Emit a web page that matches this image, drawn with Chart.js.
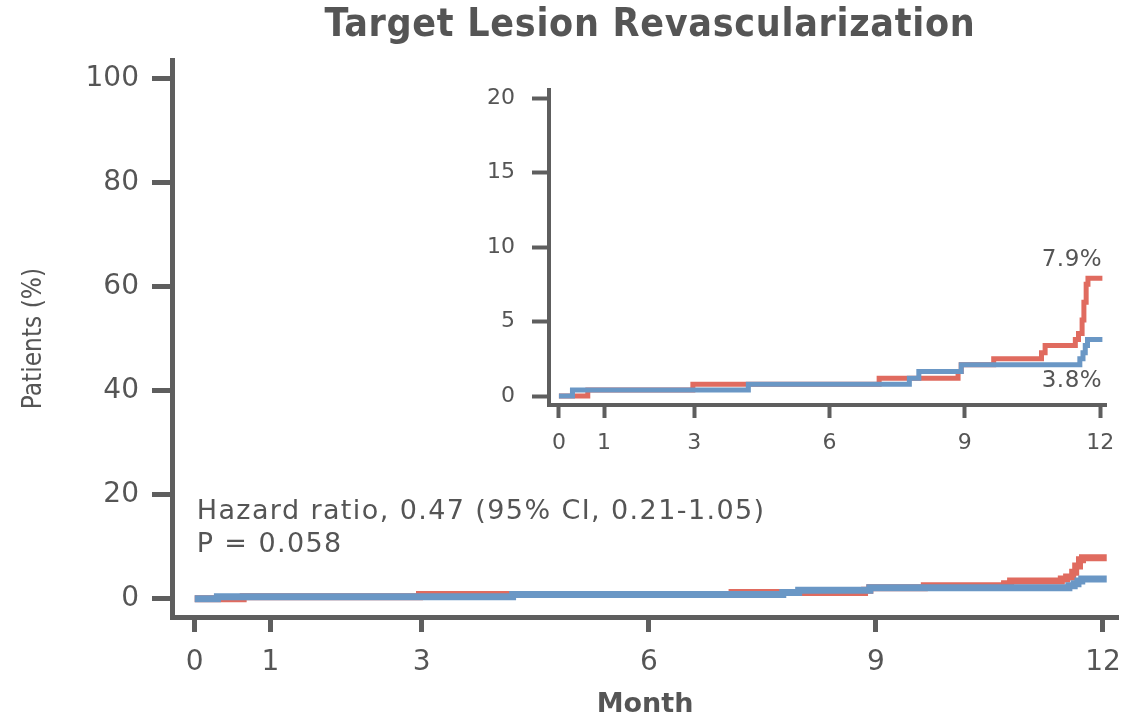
<!DOCTYPE html>
<html>
<head>
<meta charset="utf-8">
<script src="https://cdn.jsdelivr.net/npm/chart.js@4.4.0/dist/chart.umd.min.js"></script>
<style>
  body { margin: 0; background: #fff; }
  #wrap { position: relative; width: 1135px; height: 721px; }
  #title {
    position: absolute; left: 165px; width: 970px; top: 0px;
    text-align: center; color: #555;
    font-family: "DejaVu Sans Condensed", "DejaVu Sans", sans-serif;
    font-stretch: condensed; font-size: 39px; font-weight: bold;
    letter-spacing: 0.7px;
  }
  #main { position: absolute; left: 0; top: 0; }
  #inset { position: absolute; left: 470px; top: 60px; }
</style>
</head>
<body>
<div id="wrap">
  <canvas id="main" width="1135" height="721"></canvas>
  <canvas id="inset" width="660" height="410"></canvas>
  <div id="title">Target Lesion Revascularization</div>
</div>
<script>
// ---- datos (meses, % acumulado) ----
const redMonths = [0, 0.64, 2.97, 7.1, 8.85, 8.92, 9.64, 10.7, 10.78, 11.45, 11.52, 11.6, 11.64, 11.69, 11.73, 12.05];
const redPct = [0, 0.4, 0.8, 1.2, 1.65, 2.1, 2.5, 2.9, 3.4, 3.8, 4.2, 5.1, 6.3, 7.5, 7.9, 7.9];
const blueMonths = [0, 0.3, 4.2, 7.77, 7.98, 8.92, 11.55, 11.62, 11.67, 11.72, 12.05];
const bluePct = [0, 0.4, 0.8, 1.2, 1.65, 2.1, 2.5, 2.9, 3.4, 3.8, 3.8];

const xTicks = [0, 1, 3, 6, 9, 12];
const mainYTicks = [0, 20, 40, 60, 80, 100];
const insetYTicks = [0, 5, 10, 15, 20];

const hrLabel = "Hazard ratio, 0.47 (95% CI, 0.21-1.05)";
const pLabel = "P = 0.058";
const redEndLabel = "7.9%";
const blueEndLabel = "3.8%";

// ---- estilos ----
const RED = "#e06b5f";
const BLUE = "#6a97c5";
const AXIS = "#5e5e5e";
const TEXT = "#555555";
const FONT = "'DejaVu Sans', sans-serif";

const toPoints = (xs, ys) => xs.map((m, i) => ({ x: m, y: ys[i] }));

// texto anclado a valores de las escalas
const noteText = {
  id: "noteText",
  afterDatasetsDraw(chart, args, opts) {
    const { ctx, scales: { x, y } } = chart;
    ctx.save();
    ctx.fillStyle = TEXT;
    ctx.font = opts.font;
    ctx.letterSpacing = opts.spacing || "0px";
    ctx.textBaseline = "middle";
    opts.items.forEach((it) => {
      ctx.textAlign = it.align || "left";
      ctx.fillText(it.text, x.getPixelForValue(it.x) + (it.dx || 0), y.getPixelForValue(it.y) + (it.dy || 0));
    });
    ctx.restore();
  },
};

const makeDatasets = (lw) => [
  {
    label: "blue",
    data: toPoints(blueMonths, bluePct),
    borderColor: BLUE,
    borderWidth: lw,
    stepped: "before",
    pointRadius: 0,
    fill: false,
    order: 1,
  },
  {
    label: "red",
    data: toPoints(redMonths, redPct),
    borderColor: RED,
    borderWidth: lw,
    stepped: "before",
    pointRadius: 0,
    fill: false,
    order: 2,
  },
];

const axisScale = (opts) => ({
  type: "linear",
  min: opts.min,
  max: opts.max,
  afterBuildTicks: (s) => { s.ticks = opts.ticks.map((v) => ({ value: v })); },
  afterFit: opts.fit,
  border: { display: true, color: AXIS, width: opts.bw },
  grid: {
    display: true,
    drawOnChartArea: false,
    drawTicks: true,
    tickLength: opts.tl,
    tickWidth: opts.bw,
    tickColor: AXIS,
  },
  ticks: {
    color: TEXT,
    padding: opts.pad,
    font: { family: FONT, size: opts.fs },
    maxRotation: 0,
    autoSkip: false,
  },
  title: opts.title || { display: false },
});

// ---- gráfico principal ----
new Chart(document.getElementById("main"), {
  type: "line",
  data: { datasets: makeDatasets(7) },
  plugins: [noteText],
  options: {
    responsive: false,
    animation: false,
    layout: { padding: { top: 60, right: 15, left: 0, bottom: 0 } },
    scales: {
      x: axisScale({
        min: -0.3, max: 12.2, ticks: xTicks, bw: 5, tl: 15, pad: 14, fs: 28,
        fit: (s) => { s.height = 104; },
        title: {
          display: true, text: "Month", color: TEXT,
          font: { family: FONT, size: 27, weight: "bold" },
          padding: { top: 0, bottom: 0 },
        },
      }),
      y: axisScale({
        min: -3.5, max: 103.5, ticks: mainYTicks, bw: 5, tl: 20, pad: 13, fs: 28,
        fit: (s) => { s.width = 172; },
        title: {
          display: true, text: "Patients (%)", color: TEXT,
          font: { family: "'DejaVu Sans Condensed', 'DejaVu Sans', sans-serif", size: 26 },
          padding: { top: 19, bottom: 0 },
        },
      }),
    },
    plugins: {
      legend: { display: false },
      tooltip: { enabled: false },
      noteText: {
        font: "27px " + FONT,
        spacing: "1.4px",
        items: [
          { text: hrLabel, x: 0, y: 16.7, dx: 2 },
          { text: pLabel, x: 0, y: 10.4, dx: 2 },
        ],
      },
    },
  },
});

// ---- gráfico insertado (zoom 0-20 %) ----
new Chart(document.getElementById("inset"), {
  type: "line",
  data: { datasets: makeDatasets(5) },
  plugins: [noteText],
  options: {
    responsive: false,
    animation: false,
    layout: { padding: { top: 25, right: 24, left: 0, bottom: 0 } },
    scales: {
      x: axisScale({
        min: -0.22, max: 12.13, ticks: xTicks, bw: 4, tl: 13, pad: 12, fs: 22,
        fit: (s) => { s.height = 65; },
      }),
      y: axisScale({
        min: -0.6, max: 20.53, ticks: insetYTicks, bw: 4, tl: 17, pad: 17, fs: 22,
        fit: (s) => { s.width = 79; },
      }),
    },
    plugins: {
      legend: { display: false },
      tooltip: { enabled: false },
      noteText: {
        font: "23px " + FONT,
        spacing: "0.5px",
        items: [
          { text: redEndLabel, x: 12, y: 7.9, dx: 2, dy: -18, align: "right" },
          { text: blueEndLabel, x: 12, y: 3.8, dx: 2, dy: 42, align: "right" },
        ],
      },
    },
  },
});
</script>
</body>
</html>
